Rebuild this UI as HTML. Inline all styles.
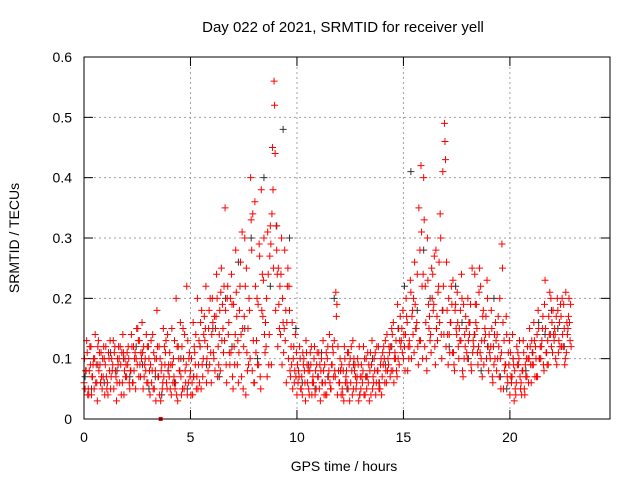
<!DOCTYPE html>
<html><head><meta charset="utf-8"><style>
body{margin:0;background:#fff}
svg{display:block;font-family:"Liberation Sans",sans-serif}
</style></head><body>
<svg id="chart" width="640" height="480" viewBox="0 0 640 480">
<text x="343" y="32" font-size="15" text-anchor="middle">Day 022 of 2021, SRMTID for receiver yell</text>
<text transform="translate(19,238) rotate(-90)" font-size="14" text-anchor="middle">SRMTID / TECUs</text>
<text x="344" y="471" font-size="14" text-anchor="middle">GPS time / hours</text>
<g id="grid"></g>
<g id="ticks"></g>
<g id="black"></g>
<g id="red"></g>
<rect x="84" y="57" width="526" height="362" fill="none" stroke="#000" stroke-width="1"/>
</svg>
<script>
const xTicks=[0,5,10,15,20];
const yTicks=[0,0.1,0.2,0.3,0.4,0.5,0.6];
const yTickLabels=["0","0.1","0.2","0.3","0.4","0.5","0.6"];
const redA=[.06,.08,.05,.09,.07,.10,.06,.08,.11,.07,
.09,.06,.08,.10,.05,.07,.09,.12,.06,.08,
.07,.10,.08,.06,.11,.09,.13,.10,.12,.08,
.06,.04,.08,.05,.10,.07,.03,.06,.09,.05,
.07,.04,.10,.06,.03,.08,.12,.05,.09,.06,
.08,.04,.11,.07,.13,.05,.10,.15,.12,.09,
.14,.10,.17,.12,.08,.19,.13,.06,.16,.11,
.05,.14,.09,.18,.07,.12,.04,.15,.10,.08,
.06,.13,.09,.05,.17,.11,.07,.14,.09,.25,
.18,.12,.22,.09,.15,.06,.10,.07,.05,.08,
.04,.07,.05,.09,.03,.06,.08,.04,.10,.05,
.07,.03,.06,.09,.04,.08,.05,.11,.07,.04,
.06,.09,.03,.07,.05,.10,.04,.08,.06,.03,
.05,.08,.04,.07,.03,.09,.06,.04,.08,.05,
.07,.10,.06,.09,.12,.08,.11,.07,.09,.13,
.10,.14,.08,.12,.17,.11,.15,.09,.13,.10,
.12,.08,.15,.11,.18,.09,.13,.16,.10,.14,
.12,.09,.16,.11,.08,.14,.10,.13,.07,.12,
.10,.14,.08,.12,.16,.09,.11,.07,.13,.10,
.08,.12,.06,.10,.14,.07,.11,.05,.09,.06,
.04,.07,.03,.06,.09,.05,.08,.04,.07,.10,
.06,.09,.12,.07,.10,.13,.08,.11,.09,.14,
.11,.15,.09,.13,.17,.12,.10,.14,.16];
const redB=[.10,.13,.04,.12,.09,.14,.03,.11,.07,.12,
.12,.04,.13,.08,.11,.03,.12,.09,.14,.10,
.11,.06,.14,.12,.05,.15,.09,.16,.07,.14,
.12,.09,.14,.10,.18,.12,.08,.15,.11,.14,
.11,.15,.07,.20,.12,.16,.05,.14,.22,.10,
.04,.16,.09,.20,.06,.18,.14,.22,.08,.20,
.20,.17,.24,.09,.21,.15,.35,.20,.11,.24,
.19,.28,.13,.22,.31,.17,.25,.09,.40,.34,
.36,.20,.29,.38,.23,.16,.31,.27,.34,.56,
.32,.25,.14,.20,.28,.16,.22,.12,.10,.14,
.09,.12,.07,.10,.13,.08,.11,.06,.12,.09,
.11,.08,.13,.06,.10,.14,.09,.07,.21,.12,
.10,.05,.12,.08,.11,.06,.13,.09,.07,.12,
.09,.12,.07,.11,.08,.13,.10,.06,.12,.09,
.11,.06,.14,.12,.08,.16,.10,.19,.13,.15,
.14,.20,.12,.23,.18,.26,.16,.35,.42,.24,
.22,.30,.17,.25,.19,.28,.21,.34,.18,.49,
.26,.20,.16,.23,.18,.21,.15,.24,.19,.17,
.20,.16,.25,.14,.19,.12,.22,.17,.15,.23,
.14,.18,.12,.16,.10,.20,.29,.13,.17,.11,
.11,.14,.08,.12,.10,.06,.13,.09,.12,.15,
.13,.16,.10,.18,.12,.15,.19,.11,.17,.20,
.18,.14,.20,.16,.12,.19,.21,.15,.13];
const redC=[.05,.11,.08,.04,.10,.06,.12,.09,.05,.10,
.07,.11,.05,.09,.12,.06,.10,.04,.11,.07,
.09,.05,.12,.08,.10,.13,.07,.11,.09,.06,
.10,.13,.05,.08,.12,.04,.09,.07,.13,.08,
.05,.09,.13,.04,.10,.07,.15,.08,.04,.11,
.10,.07,.14,.05,.12,.09,.17,.06,.15,.11,
.16,.08,.20,.14,.25,.11,.18,.22,.09,.19,
.12,.21,.06,.26,.15,.30,.11,.20,.33,.13,
.22,.09,.27,.18,.30,.12,.24,.32,.45,.52,
.28,.19,.24,.16,.13,.22,.18,.09,.12,.07,
.06,.10,.04,.08,.11,.05,.09,.07,.04,.11,
.05,.10,.08,.04,.12,.06,.09,.13,.17,.08,
.08,.04,.10,.06,.09,.12,.05,.07,.10,.04,
.07,.04,.10,.06,.11,.05,.08,.12,.05,.10,
.09,.13,.08,.11,.15,.06,.13,.10,.17,.11,
.12,.17,.10,.21,.14,.19,.24,.13,.31,.40,
.16,.23,.13,.20,.27,.15,.22,.30,.41,.46,
.18,.14,.22,.11,.19,.16,.13,.20,.10,.15,
.13,.19,.11,.24,.15,.21,.10,.18,.14,.20,
.11,.15,.09,.13,.17,.10,.25,.08,.14,.09,
.07,.10,.05,.09,.13,.04,.11,.07,.10,.12,
.09,.13,.07,.15,.10,.17,.23,.09,.14,.12,
.14,.10,.18,.12,.20,.15,.11,.17,.19];
const redD=[.08,.04,.12,.07,.05,.09,.13,.06,.10,.04,
.05,.10,.07,.13,.08,.10,.06,.11,.04,.09,
.12,.08,.06,.10,.15,.07,.11,.05,.10,.12,
.08,.06,.11,.03,.07,.10,.05,.12,.06,.09,
.09,.06,.05,.12,.08,.04,.10,.06,.13,.07,
.06,.12,.05,.09,.16,.07,.13,.10,.18,.06,
.11,.15,.07,.18,.13,.22,.09,.14,.20,.07,
.09,.17,.11,.14,.05,.22,.08,.18,.28,.06,
.11,.19,.07,.24,.14,.20,.09,.29,.38,.44,
.24,.15,.30,.11,.18,.25,.08,.16,.06,.11,
.08,.05,.11,.06,.09,.04,.12,.06,.08,.07,
.09,.06,.04,.11,.07,.05,.12,.08,.19,.06,
.04,.08,.06,.11,.03,.08,.10,.05,.09,.07,
.06,.10,.05,.09,.04,.07,.11,.08,.06,.04,
.12,.08,.10,.07,.14,.10,.08,.15,.12,.18,
.08,.16,.13,.10,.20,.15,.12,.28,.22,.33,
.10,.19,.14,.24,.12,.17,.26,.14,.22,.43,
.14,.11,.19,.09,.15,.12,.18,.08,.14,.11,
.16,.09,.13,.19,.11,.25,.13,.09,.17,.12,
.10,.07,.14,.08,.12,.05,.16,.09,.07,.13,
.06,.09,.04,.11,.07,.08,.05,.10,.06,.09,
.11,.07,.14,.10,.12,.09,.15,.13,.21,.16,
.13,.17,.11,.19,.14,.09,.16,.20,.12];
const blackV=[.07,.05,.09,.06,.11,.08,.10,.07,.12,.09,.05,.07,
.04,.08,.06,.10,.05,.07,.12,.09,.15,.07,
.20,.12,.26,.15,.30,.10,.40,.22,.32,.48,.30,.15,
.06,.09,.05,.11,.07,.20,.08,.05,.09,.04,.07,.10,.06,
.09,.12,.15,.22,.41,.18,.28,.20,.15,.18,.12,.22,.16,.10,
.14,.08,.12,.20,.07,.05,.10,.13,.08,.11,.16,.14,.18,.15,.12];
const redStep=0.1, blackStep=0.3;
const X=t=>84+t*(526/24.7), Y=v=>419-v*(362/0.6);
const NS="http://www.w3.org/2000/svg";
function mk(tag,attrs,parent){const e=document.createElementNS(NS,tag);for(const k in attrs)e.setAttribute(k,attrs[k]);parent.appendChild(e);return e;}
const grid=document.getElementById('grid'),ticks=document.getElementById('ticks');
xTicks.forEach(t=>{
 const x=X(t);
 if(t>0){const g=mk('line',{x1:x,x2:x,y1:57,y2:419,stroke:'#a0a0a0','stroke-dasharray':'2,3'},grid);
 
 }
 mk('line',{x1:x,x2:x,y1:419,y2:410,stroke:'#000'},ticks);
 mk('line',{x1:x,x2:x,y1:57,y2:66,stroke:'#000'},ticks);
 const l=mk('text',{x:x,y:442,'font-size':14,'text-anchor':'middle'},ticks);l.textContent=t;
 
 
});
yTicks.forEach((v,i)=>{
 const y=Y(v);
 if(v>0&&v<0.6){const g=mk('line',{x1:84,x2:610,y1:y,y2:y,stroke:'#a0a0a0','stroke-dasharray':'2,3'},grid);
 
 }
 mk('line',{x1:84,x2:93,y1:y,y2:y,stroke:'#000'},ticks);
 mk('line',{x1:601,x2:610,y1:y,y2:y,stroke:'#000'},ticks);
 const l=mk('text',{x:72,y:y+5,'font-size':14,'text-anchor':'end'},ticks);l.textContent=yTickLabels[i];
 
 
});
function plus(g,x,y,c){
 return mk('path',{d:`M${x-3.5},${y}h7M${x},${y-3.5}v7`,stroke:c,'stroke-width':1,fill:'none'},g);
}
const bg=document.getElementById('black');
blackV.forEach((v,i)=>{const p=plus(bg,X(0.05+i*blackStep),Y(v),'#333');
 
 });
const rg=document.getElementById('red');
[redA,redB,redC,redD].forEach((arr,k)=>arr.forEach((v,i)=>{const p=plus(rg,X(i*redStep+k*0.025),Y(v),'#ff0000');
 
 }));
const sq=mk('rect',{x:X(3.6)-2,y:Y(0)-2,width:4,height:4,fill:'#ff0000'},rg);


</script>
</body></html>
